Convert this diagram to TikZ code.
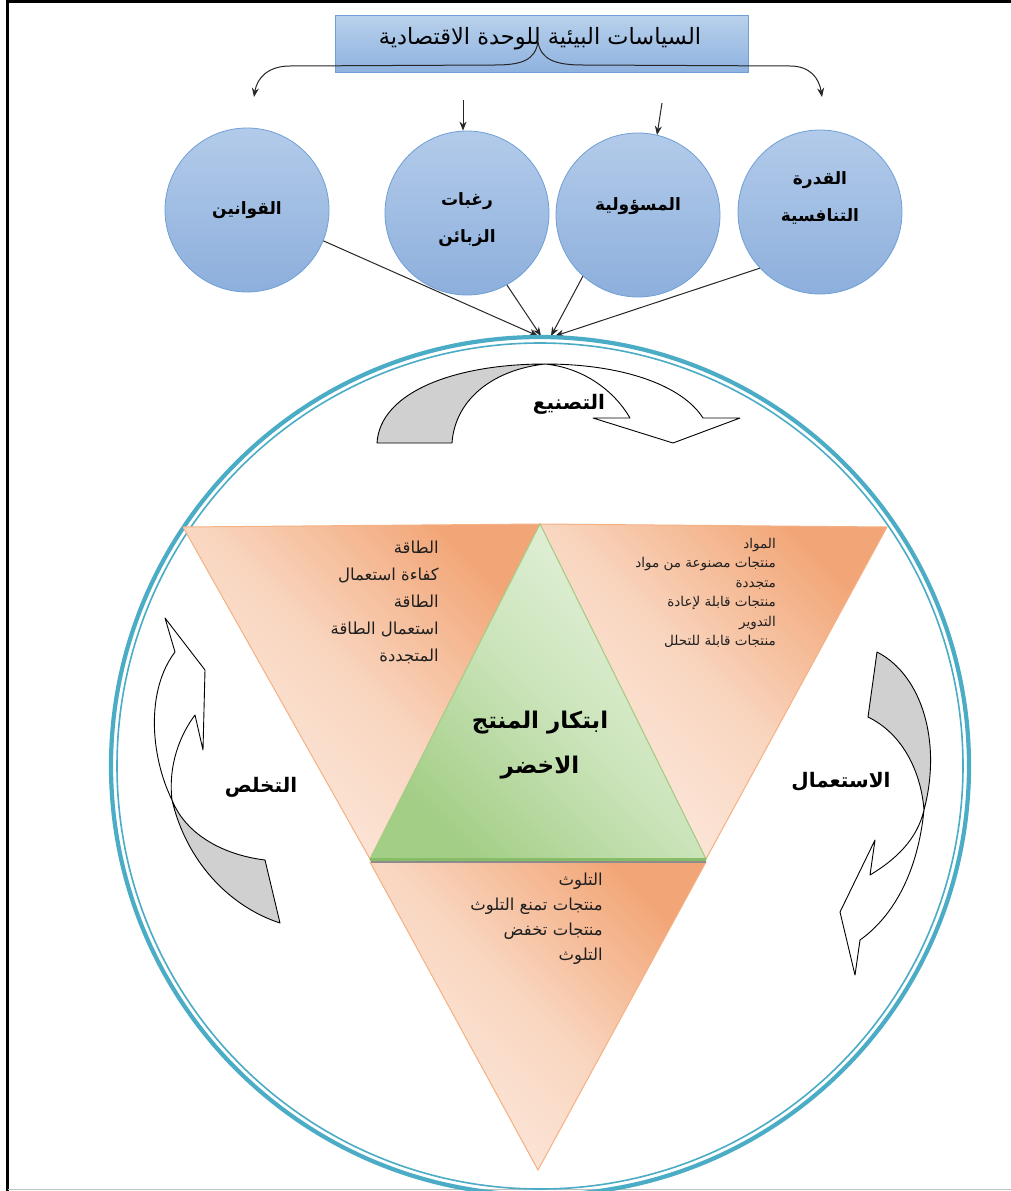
\documentclass[tikz,border=0pt]{standalone}
\usepackage{fontspec}
\newfontfamily\arabicfont[Script=Arabic]{DejaVu Sans}
\TeXXeTstate=1
\usetikzlibrary{arrows.meta}
\newcommand\rtl[1]{\beginR#1\endR}

\definecolor{boxtop}{HTML}{B9D1EC}
\definecolor{boxbot}{HTML}{8EB2DF}
\definecolor{boxline}{HTML}{6F9FD6}
\definecolor{bubtop}{HTML}{B3CBEA}
\definecolor{bubbot}{HTML}{8DAFDC}
\definecolor{ringblue}{HTML}{4BACC6}
\definecolor{orgdark}{HTML}{F2A677}
\definecolor{orgmid}{HTML}{F9D6C0}
\definecolor{orglight}{HTML}{FCEADF}
\definecolor{orgline}{HTML}{F4B183}
\definecolor{grnlight}{HTML}{E6F2DE}
\definecolor{grnmid}{HTML}{CBE4BA}
\definecolor{grndark}{HTML}{A3CE86}
\definecolor{grnedge}{HTML}{86BD66}
\definecolor{bandgray}{HTML}{D0D0D0}

\tikzset{
  conn/.style={line width=1, draw=black!85, -{Stealth[length=9pt,width=7pt]}},
  bubble/.style={circle, minimum size=164, inner sep=0, draw=boxline, line width=0.8,
    top color=bubtop, bottom color=bubbot},
  bubtext/.style={font=\arabicfont\bfseries\fontsize{17}{37}\selectfont, align=center, inner sep=0},
  orangetri/.style={draw=orgline, line width=1, top color=orgdark, bottom color=orglight,
    middle color=orgmid, shading angle=-45},
  greentri/.style={draw=grndark, line width=1, top color=grnlight, bottom color=grndark,
    middle color=grnmid, shading angle=-45},
  band/.style={draw=black, line width=0.9, line join=round},
  cyclelabel/.style={font=\arabicfont\bfseries\fontsize{20}{24}\selectfont},
  tritext/.style={inner sep=0, align=right, text=black!88}
}

\begin{document}
\begin{tikzpicture}[x=1pt,y=-1pt]
\useasboundingbox (0,0) rectangle (1011,1191);
\clip (0,0) rectangle (1011,1191);
\fill[white] (0,0) rectangle (1011,1191);

% page frame
\draw[line width=3] (7.5,1191) -- (7.5,1.5) -- (1011,1.5);
\draw[black!25, line width=1.5] (7.5,1189.5) -- (1011,1189.5);

% title box
\node[draw=boxline, line width=1, top color=boxtop, bottom color=boxbot,
      minimum width=413, minimum height=57, inner sep=0] (box) at (541.5,43.5) {};
\node[font=\arabicfont\fontsize{22.5}{26}\selectfont] (title) at (540,39)
  {\rtl{السياسات البيئية للوحدة الاقتصادية}};

% branching arrows from the title
\coordinate (split) at (538,42);
\coordinate (ltip) at (254,97);
\coordinate (rtip) at (822,97);
\draw[conn] (split) .. controls (535,60) and (522,65) .. (495,65) -- (290,66)
  .. controls (268,66) and (257,78) .. (ltip);
\draw[conn] (split) .. controls (541,60) and (556,65) .. (583,65) -- (790,66)
  .. controls (810,66) and (819,78) .. (rtip);

% the four driver circles
\node[bubble] (law) at (247,210) {};
\node[bubble] (wish) at (467,213) {};
\node[bubble] (resp) at (638,215) {};
\node[bubble] (comp) at (820,212) {};
\node[bubtext] (lawtext) at (law.center) {\rtl{القوانين}};
\node[bubtext] (wishtext) at (467,220) {\rtl{رغبات}\\\rtl{الزبائن}};
\node[bubtext] (resptext) at (638,206) {\rtl{المسؤولية}};
\node[bubtext] (comptext) at (820,198) {\rtl{القدرة}\\\rtl{التنافسية}};

\coordinate (a1) at (463,100);
\coordinate (a2) at (662,103);
\draw[conn] (a1) -- (wish.north -| a1);
\draw[conn] (a2) -- (657,135);

% arrows into the product cycle
\coordinate (in1) at (538,336);
\coordinate (in2) at (541,336);
\coordinate (in3) at (551,336);
\coordinate (in4) at (555,336);
\draw[conn] (law.-22) -- (in1);
\draw[conn] (wish.-61) -- (in2);
\draw[conn] (resp.-132) -- (in3);
\draw[conn] (comp.-137) -- (in4);

% outer ring
\draw[ringblue, line width=4.2] (540,766) circle (429);
\draw[ringblue, line width=1.6] (540,766) circle (423);

% triangles
\coordinate (A) at (183,527);
\coordinate (B) at (540,524);
\coordinate (C) at (887,527);
\coordinate (D) at (370,859);
\coordinate (E) at (706,859);
\coordinate (D2) at (370,862);
\coordinate (E2) at (706,862);
\coordinate (F) at (538,1170);

\path[orangetri] (A) -- (B) -- (D) -- cycle;
\path[orangetri] (B) -- (C) -- (E) -- cycle;
\path[orangetri] (D2) -- (E2) -- (F) -- cycle;
\path[greentri] (B) -- (E) -- (D) -- cycle;
\draw[black!45, line width=2] (371,861.5) -- (706,861.5);
\draw[grnedge, line width=3] (D) -- (E);

% texts in the triangles
\node[tritext, anchor=north east, font=\arabicfont\fontsize{16.5}{27}\selectfont] (energy) at (439,541)
  {\rtl{الطاقة}\\\rtl{كفاءة استعمال}\\\rtl{الطاقة}\\\rtl{استعمال الطاقة}\\\rtl{المتجددة}};
\node[tritext, anchor=north east, font=\arabicfont\fontsize{13.5}{19.5}\selectfont] (materials) at (776,538)
  {\rtl{المواد}\\\rtl{منتجات مصنوعة من مواد}\\\rtl{متجددة}\\\rtl{منتجات قابلة لإعادة}\\\rtl{التدوير}\\\rtl{منتجات قابلة للتحلل}};
\node[tritext, anchor=north east, font=\arabicfont\fontsize{16.5}{25}\selectfont] (pollution) at (603,873)
  {\rtl{التلوث}\\\rtl{منتجات تمنع التلوث}\\\rtl{منتجات تخفض}\\\rtl{التلوث}};
\node[align=center, font=\arabicfont\bfseries\fontsize{23}{45}\selectfont] (green) at (540,745)
  {\rtl{ابتكار المنتج}\\\rtl{الاخضر}};

% manufacturing band (top)
\path[band, fill=bandgray] (377,443) .. controls (380,392) and (455,364) .. (545,364)
  .. controls (492,370) and (455,400) .. (452,443) -- cycle;
\path[band, fill=white] (545,364) .. controls (622,364) and (682,385) .. (703,418)
  -- (740,418) -- (673,443) -- (593,418) -- (630,418)
  .. controls (615,392) and (585,368) .. (545,364) -- cycle;
\node[cyclelabel] (mfg) at (569,404) {\rtl{التصنيع}};

% use band (right)
\path[band, fill=bandgray] (877,652) .. controls (922,675) and (942,742) .. (924,810)
  .. controls (921,772) and (903,734) .. (868,717) -- cycle;
\path[band, fill=white] (924,810) .. controls (918,870) and (895,915) .. (860,940)
  -- (855,975) -- (840,912) -- (875,840) -- (870,875)
  .. controls (895,860) and (917,840) .. (924,810) -- cycle;
\node[cyclelabel] (use) at (841,782) {\rtl{الاستعمال}};

% disposal band (left)
\path[band, fill=bandgray] (172,800) .. controls (186,860) and (228,906) .. (280,923)
  -- (265,860) .. controls (224,855) and (186,835) .. (172,800) -- cycle;
\path[band, fill=white] (172,800) .. controls (150,755) and (146,690) .. (175,652)
  -- (165,618) -- (205,670) -- (203,750) -- (195,715)
  .. controls (180,735) and (168,765) .. (172,800) -- cycle;
\node[cyclelabel] (disp) at (261,787) {\rtl{التخلص}};
\end{tikzpicture}
\end{document}
